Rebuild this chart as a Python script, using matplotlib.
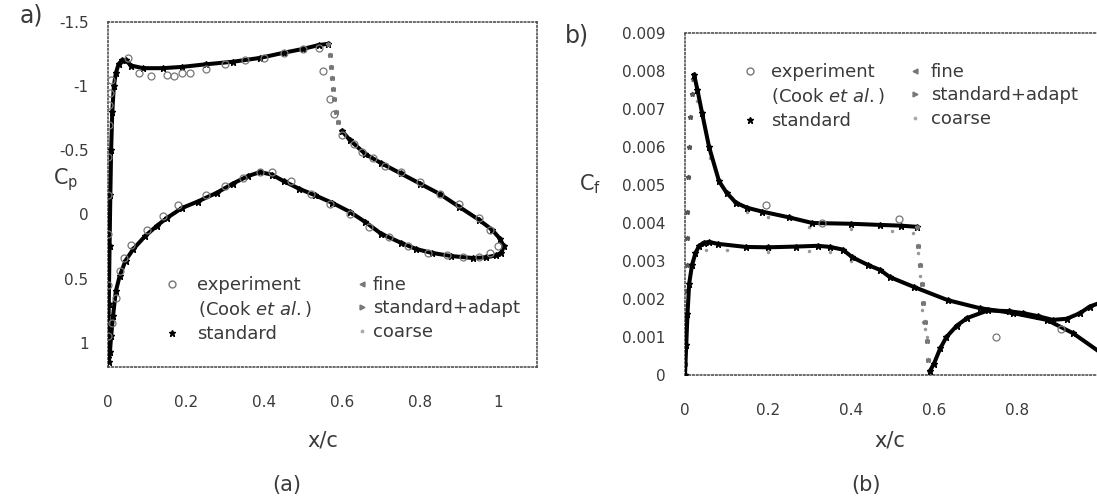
import numpy as np
import matplotlib
matplotlib.use("Agg")
import matplotlib.pyplot as plt
from matplotlib.lines import Line2D

# %% data
# (a) pressure coefficient, "standard" solution
cp_up_x = [0.0, 0.002, 0.004, 0.006, 0.008, 0.011, 0.015, 0.02, 0.027, 0.035, 0.045,
           0.06, 0.09, 0.14, 0.19, 0.25, 0.32, 0.39, 0.45, 0.50, 0.54, 0.565]
cp_up = [1.12, 0.7, 0.25, -0.15, -0.5, -0.8, -1.0, -1.1, -1.17, -1.2, -1.2,
         -1.16, -1.14, -1.14, -1.15, -1.17, -1.19, -1.22, -1.26, -1.29, -1.32, -1.33]
cp_shock_x = [0.565, 0.568, 0.571, 0.574, 0.577, 0.580, 0.584, 0.59, 0.60]
cp_shock = [-1.33, -1.24, -1.15, -1.06, -0.98, -0.9, -0.8, -0.72, -0.65]
cp_rec_x = [0.60, 0.62, 0.66, 0.70, 0.75, 0.80, 0.85, 0.90, 0.95, 0.985, 1.005,
            1.015, 1.008, 0.995, 0.97, 0.935, 0.88, 0.83, 0.79, 0.75, 0.70, 0.66,
            0.62, 0.575, 0.53, 0.49, 0.45, 0.42, 0.39, 0.36, 0.32, 0.28, 0.23,
            0.19, 0.15, 0.125, 0.095, 0.065, 0.045, 0.03, 0.02, 0.013, 0.008,
            0.005, 0.002]
cp_rec = [-0.65, -0.58, -0.47, -0.40, -0.32, -0.24, -0.16, -0.06, 0.04, 0.12, 0.19,
          0.25, 0.30, 0.32, 0.335, 0.34, 0.325, 0.30, 0.27, 0.22, 0.15, 0.06,
          -0.02, -0.09, -0.15, -0.2, -0.26, -0.31, -0.33, -0.30, -0.24, -0.17, -0.1,
          -0.05, 0.03, 0.09, 0.17, 0.27, 0.36, 0.48, 0.6, 0.79, 0.95,
          1.07, 1.15]

# (a) experiment (Cook et al.)
cp_exp_x = [0.0, 0.0, 0.0, 0.001, 0.001, 0.002, 0.003, 0.005, 0.008, 0.05, 0.08,
            0.11, 0.15, 0.17, 0.19, 0.21, 0.25, 0.30, 0.35, 0.40, 0.45, 0.50, 0.54,
            0.55, 0.57, 0.58, 0.60, 0.63, 0.65, 0.68, 0.71, 0.75, 0.80, 0.85,
            0.90, 0.95, 0.98,
            0.01, 0.02, 0.03, 0.04, 0.06, 0.10, 0.14, 0.18, 0.25, 0.30, 0.345,
            0.39, 0.42, 0.47, 0.52, 0.57, 0.62, 0.67, 0.72, 0.77, 0.82, 0.87,
            0.91, 0.95, 0.98, 1.0]
cp_exp = [0.95, 0.55, 0.15, -0.15, -0.45, -0.7, -0.85, -0.95, -1.05, -1.22, -1.1,
          -1.08, -1.09, -1.08, -1.1, -1.1, -1.13, -1.17, -1.2, -1.22, -1.26, -1.29, -1.3,
          -1.12, -0.9, -0.78, -0.62, -0.55, -0.49, -0.44, -0.38, -0.33, -0.25, -0.16,
          -0.08, 0.03, 0.12,
          0.85, 0.65, 0.44, 0.34, 0.24, 0.12, 0.01, -0.07, -0.15, -0.22, -0.28,
          -0.33, -0.33, -0.26, -0.16, -0.08, 0.0, 0.1, 0.18, 0.25, 0.30, 0.32,
          0.33, 0.33, 0.3, 0.25]

# (b) skin friction, "standard" solution
cf_le_x = [0.0, 0.001, 0.002, 0.003, 0.004, 0.005, 0.006, 0.008, 0.01, 0.013, 0.016, 0.02]
cf_le = [0.0003, 0.0008, 0.0015, 0.0022, 0.0029, 0.0036, 0.0043, 0.0052, 0.006, 0.0068, 0.0074, 0.0078]
cf_up_x = [0.022, 0.03, 0.041, 0.058, 0.082, 0.10, 0.123, 0.15, 0.186, 0.25, 0.307,
           0.40, 0.469, 0.52, 0.558]
cf_up = [0.0079, 0.0075, 0.0069, 0.006, 0.0051, 0.0048, 0.00453, 0.0044, 0.0043, 0.00415,
         0.0040, 0.00398, 0.00395, 0.00393, 0.0039]
cf_shock_x = [0.558, 0.562, 0.566, 0.57, 0.574, 0.578, 0.582, 0.586, 0.59]
cf_shock = [0.0039, 0.0034, 0.0029, 0.0024, 0.0019, 0.0014, 0.0009, 0.0004, 0.0001]
cf_rec_x = [0.59, 0.60, 0.615, 0.63, 0.655, 0.68, 0.73, 0.78, 0.814, 0.85, 0.886,
            0.92, 0.952, 0.975, 1.0]
cf_rec = [0.0001, 0.0003, 0.0007, 0.001, 0.0013, 0.0015, 0.0017, 0.00168, 0.00163,
          0.00155, 0.00145, 0.00148, 0.00163, 0.0018, 0.0019]
cf_lo_x = [0.0, 0.003, 0.006, 0.01, 0.017, 0.025, 0.034, 0.045, 0.058, 0.08, 0.147,
           0.20, 0.268, 0.32, 0.35, 0.38, 0.403, 0.44, 0.471, 0.493, 0.551, 0.633,
           0.71, 0.79, 0.872, 0.935, 1.0]
cf_lo = [0.0, 0.0008, 0.0016, 0.0024, 0.0029, 0.0032, 0.0034, 0.00348, 0.0035, 0.00345, 0.00337,
         0.00336, 0.00338, 0.0034, 0.00337, 0.0033, 0.0031, 0.0029, 0.00276, 0.00258, 0.00232, 0.00197,
         0.00176, 0.00163, 0.00145, 0.0011, 0.0006]

# (b) coarse mesh, sits a little under the others
cf_coarse_x = [0.03, 0.06, 0.10, 0.15, 0.20, 0.30, 0.40, 0.50, 0.55, 0.562, 0.566,
               0.57, 0.574, 0.578, 0.582,
               0.02, 0.05, 0.10, 0.20, 0.30, 0.35, 0.40]
cf_coarse = [0.0072, 0.0057, 0.0048, 0.0043, 0.00415, 0.0039, 0.00385, 0.0038, 0.00375, 0.0032, 0.0026,
             0.0017, 0.0014, 0.0012, 0.0010,
             0.003, 0.0033, 0.00328, 0.00325, 0.00327, 0.00325, 0.0030]

# (b) experiment (Cook et al.)
cf_exp_x = [0.196, 0.33, 0.515, 0.75, 0.905]
cf_exp = [0.00447, 0.0040, 0.0041, 0.0010, 0.0012]

cp_yticks = [-1.5, -1, -0.5, 0, 0.5, 1]
cp_ylabels = ["-1.5", "-1", "-0.5", "0", "0.5", "1"]
cf_yticks = [0, 0.001, 0.002, 0.003, 0.004, 0.005, 0.006, 0.007, 0.008, 0.009]
cf_ylabels = ["0", "0.001", "0.002", "0.003", "0.004", "0.005", "0.006", "0.007", "0.008", "0.009"]
xticks = [0, 0.2, 0.4, 0.6, 0.8, 1]
xlabels = ["0", "0.2", "0.4", "0.6", "0.8", "1"]

series_labels = ["experiment", "(Cook $\\mathit{et\\ al.}$)", "standard", "fine",
                 "standard+adapt", "coarse"]

# %% styles
TXT = "#3a3a3a"
GREY = "#777777"
plt.rcParams["font.family"] = ["DejaVu Sans"]
plt.rcParams["mathtext.fontset"] = "dejavusans"


def style_axes(ax):
    for sp in ax.spines.values():
        sp.set_linestyle((0, (1, 1.5)))
        sp.set_color("#444444")
        sp.set_linewidth(1.1)
    ax.tick_params(length=0, labelsize=11, labelcolor=TXT)
    ax.tick_params(axis="x", pad=20)
    ax.tick_params(axis="y", pad=14)


def draw_sim(ax, xs, ys, line=True):
    if line:
        ax.plot(xs, ys, color="black", lw=2.9, marker="*", ms=4.5, zorder=4)
    else:
        ax.plot(xs, ys, ls="none", color=GREY, marker="*", ms=3.5, zorder=4)
    ax.plot(xs, ys, ls="none", marker="<", ms=2.5, color=GREY, zorder=3)
    ax.plot(xs, ys, ls="none", marker=">", ms=2.5, color=GREY, zorder=3)


def px(x, y):
    return (x / 1097, 1 - y / 497)


def make_legend(ax, left1, left2, top, pad1, pad2):
    h1 = [Line2D([], [], ls="none", marker="o", mfc="none", mec=GREY, ms=5),
          Line2D([], [], ls="none"),
          Line2D([], [], ls="none", marker="*", color="black", ms=5)]
    h2 = [Line2D([], [], ls="none", marker="<", color=GREY, ms=3.5),
          Line2D([], [], ls="none", marker=">", color=GREY, ms=3.5),
          Line2D([], [], ls="none", marker=".", color="#aaaaaa", ms=3.5)]
    kw = dict(loc="upper left", bbox_transform=fig.transFigure, frameon=False,
              fontsize=13, handlelength=0.8, labelspacing=0.3, borderpad=0,
              borderaxespad=0)
    leg1 = ax.legend(h1, series_labels[:3], bbox_to_anchor=px(left1, top),
                     handletextpad=pad1, **kw)
    for t in leg1.get_texts():
        t.set_color(TXT)
    ax.add_artist(leg1)
    leg2 = ax.legend(h2, series_labels[3:], bbox_to_anchor=px(left2, top),
                     handletextpad=pad2, **kw)
    for t in leg2.get_texts():
        t.set_color(TXT)


fig = plt.figure(figsize=(10.97, 4.97), dpi=100)

# %% (a) Cp
ax1 = fig.add_axes([108 / 1097, 130 / 497, 429 / 1097, 345 / 497])
draw_sim(ax1, cp_up_x, cp_up)
draw_sim(ax1, cp_shock_x, cp_shock, line=False)
draw_sim(ax1, cp_rec_x, cp_rec)
ax1.plot(cp_exp_x, cp_exp, ls="none", marker="o", mfc="none", mec=GREY, ms=5, mew=0.9, zorder=5)
ax1.set_xlim(0, 1.1)
ax1.set_ylim(1.19, -1.5)
ax1.set_xticks(xticks, xlabels)
ax1.set_yticks(cp_yticks, cp_ylabels)
style_axes(ax1)
make_legend(ax1, 165, 355, 276, 1.0, 0.2)

# %% (b) Cf
ax2 = fig.add_axes([685 / 1097, 122 / 497, 415 / 1097, 342 / 497])
ax2.plot(cf_le_x, cf_le, ls="none", marker="*", ms=3.5, color="#555555", zorder=4)
ax2.plot(cf_le_x, cf_le, ls="none", marker="<", ms=2.5, color=GREY, zorder=3)
draw_sim(ax2, cf_up_x, cf_up)
draw_sim(ax2, cf_shock_x, cf_shock, line=False)
draw_sim(ax2, cf_rec_x, cf_rec)
draw_sim(ax2, cf_lo_x, cf_lo)
ax2.plot(cf_coarse_x, cf_coarse, ls="none", marker=".", ms=3, color="#999999", zorder=2)
ax2.plot(cf_exp_x, cf_exp, ls="none", marker="o", mfc="none", mec=GREY, ms=5, mew=0.9, zorder=5)
ax2.set_xlim(0, 1.0)
ax2.set_ylim(0, 0.009)
ax2.set_xticks(xticks[:-1], xlabels[:-1])
ax2.set_yticks(cf_yticks, cf_ylabels)
style_axes(ax2)
make_legend(ax2, 743, 908, 63, 0.75, 0.45)

# %% labels
fig.text(20 / 1097, 1 - 15 / 497, "a)", fontsize=17, color=TXT, ha="left", va="center")
fig.text(565 / 1097, 1 - 35 / 497, "b)", fontsize=17, color=TXT, ha="left", va="center")
fig.text(66 / 1097, 1 - 180 / 497, "C$_\\mathrm{p}$", fontsize=15, color=TXT, ha="center", va="center")
fig.text(590 / 1097, 1 - 184 / 497, "C$_\\mathrm{f}$", fontsize=15, color=TXT, ha="center", va="center")
fig.text(323 / 1097, 1 - 440 / 497, "x/c", fontsize=15, color=TXT, ha="center", va="center")
fig.text(890 / 1097, 1 - 440 / 497, "x/c", fontsize=15, color=TXT, ha="center", va="center")
fig.text(287 / 1097, 1 - 485 / 497, "(a)", fontsize=15, color=TXT, ha="center", va="center")
fig.text(866 / 1097, 1 - 485 / 497, "(b)", fontsize=15, color=TXT, ha="center", va="center")

fig.savefig("out.png", dpi=100)
